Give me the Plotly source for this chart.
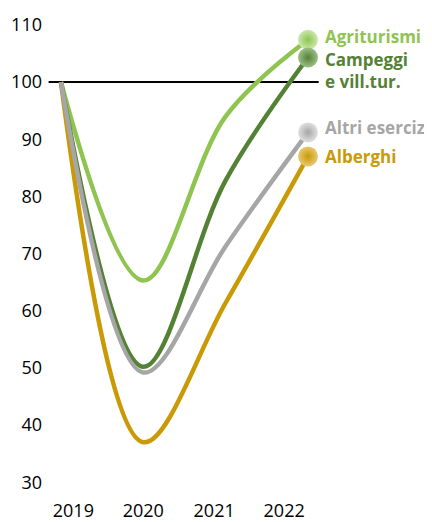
import plotly.graph_objects as go

years = ["2019", "2020", "2021", "2022"]
x_idx = [0, 1, 2, 3]
tick_pos = [0.15, 1.0, 1.86, 2.71]

agriturismi = [100, 65.3, 94.0, 107.4]
campeggi = [100, 50.2, 82.8, 104.3]
altri = [100, 49.2, 71.3, 91.2]
alberghi = [100, 37.0, 61.4, 87.0]
baseline = 100

series = {
    "Agriturismi": dict(y=agriturismi, color="#8fc450", light="#cbe8ad", label="Agriturismi", yshift=3),
    "Campeggi": dict(y=campeggi, color="#548235", light="#9dbf88", label="Campeggi<br>e vill.tur.", yshift=-13),
    "Altri": dict(y=altri, color="#a6a6a6", light="#e0e0e0", label="Altri esercizi", yshift=5),
    "Alberghi": dict(y=alberghi, color="#c99a06", light="#e8c974", label="Alberghi", yshift=0),
}

fig = go.Figure()

line_order = ["Alberghi", "Agriturismi", "Campeggi", "Altri"]
for name in line_order:
    s = series[name]
    fig.add_trace(go.Scatter(
        x=x_idx, y=s["y"], mode="lines",
        line=dict(color=s["color"], width=4.5, shape="spline", smoothing=1.0),
        hoverinfo="skip", showlegend=False,
    ))

marker_order = ["Agriturismi", "Campeggi", "Altri", "Alberghi"]
for name in marker_order:
    s = series[name]
    fig.add_trace(go.Scatter(
        x=[x_idx[-1]], y=[s["y"][-1]], mode="markers",
        marker=dict(size=20, color=s["light"],
                    gradient=dict(type="radial", color=s["color"]),
                    line=dict(width=0)),
        hoverinfo="skip", showlegend=False,
    ))
    fig.add_annotation(
        x=x_idx[-1], y=s["y"][-1], xref="x", yref="y",
        text="<b>" + s["label"] + "</b>", showarrow=False,
        xanchor="left", yanchor="middle", align="left",
        xshift=15, yshift=s["yshift"],
        font=dict(family="Open Sans", size=17, color=s["color"]),
    )

fig.add_shape(type="line", xref="x", yref="y",
              x0=-0.15, x1=3.13, y0=baseline, y1=baseline,
              line=dict(color="black", width=2), layer="below")

fig.update_layout(
    width=424, height=514,
    margin=dict(l=37, r=0, t=0, b=27),
    plot_bgcolor="white", paper_bgcolor="white",
    font=dict(family="Open Sans", size=18, color="#000000"),
    xaxis=dict(range=[-0.194, 4.506], tickvals=tick_pos, ticktext=years,
               showgrid=False, zeroline=False, showline=False, ticks="",
               ticklabelstandoff=5),
    yaxis=dict(range=[28.12, 112.96], tickvals=[30, 40, 50, 60, 70, 80, 90, 100, 110],
               showgrid=False, zeroline=False, showline=False, ticks="",
               ticklabelstandoff=2),
)

fig.write_html("out.html")
